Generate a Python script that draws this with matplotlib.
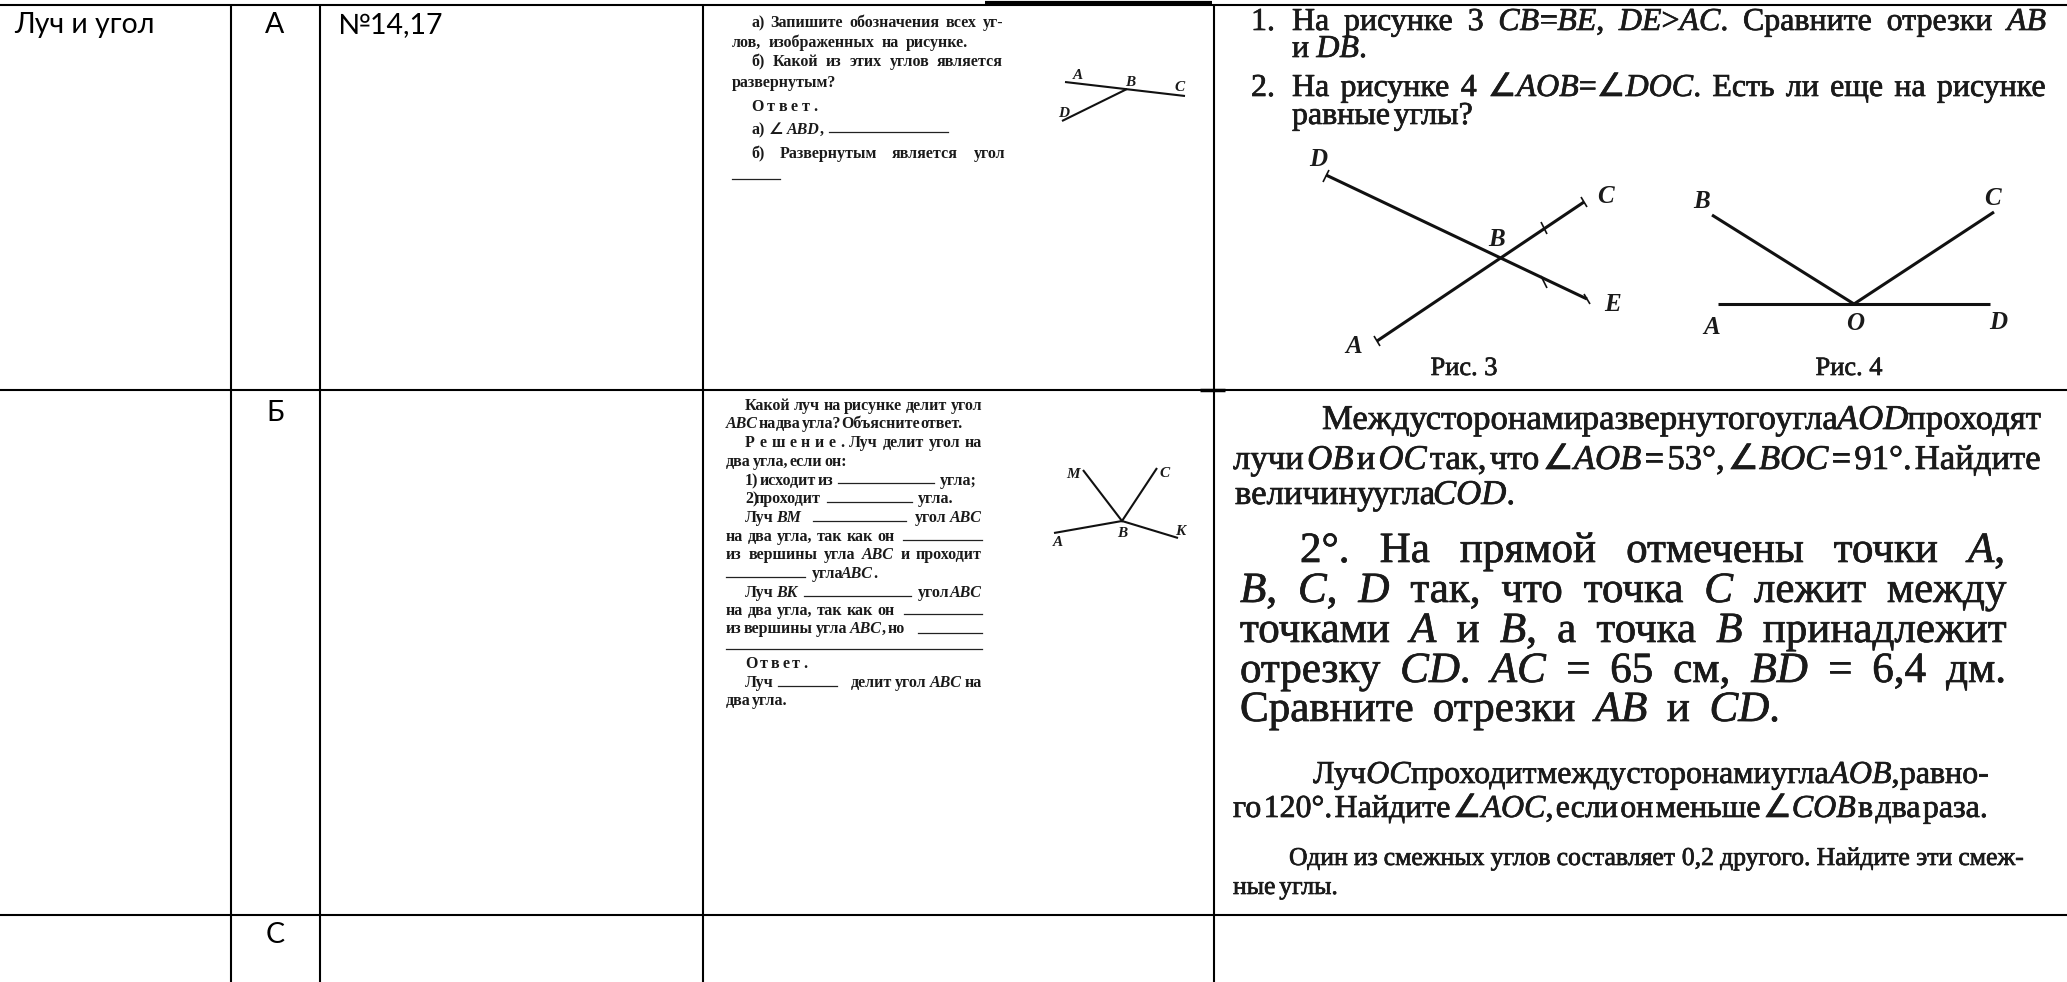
import matplotlib
matplotlib.use('Agg')
import matplotlib.pyplot as plt
import matplotlib.patheffects as pe

W, H = 2067, 982
SERIF = ['Liberation Serif', 'DejaVu Sans']
SANS = ['Lato', 'Open Sans', 'DejaVu Sans']

# table cells
topic = 'Луч и угол'
levels = ['А', 'Б', 'С']
level_y = [33, 421, 943]
tasks = '№14,17'
col_x = [231, 320, 703, 1214]
row_y = [5, 390, 915]

# text in |...| is italic
a_text = ['а) Запишите обозначения всех уг-', 'лов, изображенных на рисунке.',
          'б) Какой из этих углов является', 'развернутым?', 'О т в е т .',
          'а) ∠ |ABD|,', 'б) Развернутым является угол']
a_pos = [(751, 1003, 27), (732, 968, 47), (751, 1003, 66), (732, 832, 87),
         (751, 817, 111), (751, None, 134), (751, 1005, 158)]
a_blanks = [(829, 948, 132), (732, 780, 179)]

b_text = ['Какой луч на рисунке делит угол', '|ABC| на два угла? Объясните ответ.',
          'Р е ш е н и е .  Луч делит угол на', 'два угла, если он:',
          '1) исходит из', 'угла;', '2) проходит', 'угла.',
          'Луч  |BM|', 'угол  |ABC|', 'на два угла, так как он',
          'из вершины угла |ABC| и проходит', 'угла |ABC|.',
          'Луч |BK|', 'угол |ABC|', 'на два угла, так как он',
          'из вершины угла |ABC|, но', 'О т в е т .', 'Луч', 'делит угол |ABC| на', 'два угла.']
b_pos = [(745, 982, 410), (726, 963, 428), (745, 982, 447), (726, 847, 466),
         (745, 833, 485), (940, 973, 485), (745, 821, 503), (918, 950, 503),
         (745, 801, 522), (915, 982, 522), (726, 895, 541),
         (726, 982, 559), (812, 877, 578),
         (745, 797, 597), (918, 982, 597), (726, 895, 615),
         (726, 905, 633), (745, 807, 668), (745, 770, 687), (851, 982, 687), (726, 787, 705)]
b_blanks = [(838, 934, 483), (827, 912, 502), (813, 906, 521), (903, 982, 540),
            (726, 805, 577), (804, 911, 596), (904, 982, 614), (918, 982, 633),
            (726, 982, 649), (778, 837, 686)]

top_text = ['1.', 'На рисунке 3 |CB|=|BE|, |DE|>|AC|. Сравните отрезки |AB|', 'и |DB|.',
            '2.', 'На рисунке 4 ∠|AOB|=∠|DOC|. Есть ли еще на рисунке', 'равные углы?']
top_pos = [(1251, None, 30), (1292, 2046, 30), (1292, 1367, 57),
           (1251, None, 96), (1292, 2046, 96), (1292, 1473, 124)]

mid1_text = ['Между сторонами развернутого угла |AOD| проходят',
             'лучи |OB| и |OC| так, что ∠|AOB| = 53°, ∠|BOC| = 91°. Найдите',
             'величину угла |COD|.']
mid1_pos = [(1322, 2041, 429), (1233, 2041, 469), (1235, 1515, 504)]
mid2_text = ['2°. На прямой отмечены точки |A|,', '|B|, |C|, |D| так, что точка |C| лежит между',
             'точками |A| и |B|, а точка |B| принадлежит', 'отрезку |CD|. |AC| = 65 см, |BD| = 6,4 дм.',
             'Сравните отрезки |AB| и |CD|.']
mid2_pos = [(1300, 2005, 562), (1240, 2006, 602), (1240, 2006, 642), (1240, 2006, 682), (1240, 1780, 721)]
mid3_text = ['Луч |OC| проходит между сторонами угла |AOB|, равно-',
             'го 120°. Найдите ∠|AOC|, если он меньше ∠|COB| в два раза.']
mid3_pos = [(1313, 1989, 783), (1233, 1988, 817)]
mid4_text = ['Один из смежных углов составляет 0,2 другого. Найдите эти смеж-', 'ные углы.']
mid4_pos = [(1289, 2024, 865), (1233, 1338, 894)]

# small drawings: segments, then labels
fig_a_x = [[1065, 1185], [1127, 1062]]
fig_a_y = [[82, 96], [89, 121]]
fig_a_lab = [('A', 1078, 79), ('B', 1130, 86), ('C', 1180, 91), ('D', 1064, 117)]
fig_b_x = [[1054, 1122, 1178], [1083, 1122, 1157]]
fig_b_y = [[533, 521, 538], [470, 521, 468]]
fig_b_lab = [('M', 1073, 478), ('C', 1165, 477), ('B', 1122, 537), ('A', 1058, 546), ('K', 1180, 535)]
fig3_x = [[1326, 1587], [1377, 1584]]
fig3_y = [[175, 299], [341, 202]]
fig3_ticks_x = [[1323, 1329], [1374, 1380], [1581, 1587], [1584, 1590], [1541, 1547], [1541, 1547]]
fig3_ticks_y = [[182, 170], [336, 346], [197, 207], [294, 304], [222, 234], [276, 288]]
fig3_lab = [('D', 1318, 166), ('C', 1605, 203), ('B', 1497, 246), ('E', 1612, 311), ('A', 1354, 353)]
fig4_x = [[1718, 1990], [1712, 1854, 1994]]
fig4_y = [[304, 304], [215, 304, 212]]
fig4_lab = [('B', 1702, 208), ('C', 1992, 205), ('A', 1712, 334), ('O', 1855, 330), ('D', 1998, 329)]
captions = [('Рис. 3', 1464, 375), ('Рис. 4', 1849, 375)]

fig = plt.figure(figsize=(W / 100, H / 100), dpi=100)
ax = fig.add_axes([0, 0, 1, 1])
ax.set_xlim(0, W)
ax.set_ylim(H, 0)
ax.axis('off')
renderer = fig.canvas.get_renderer()
heavy = [pe.withStroke(linewidth=0.5, foreground='#1a1a1a')]


def put_line(x0, x1, y, s, size, weight='normal', effects=None):
    # one line, word by word, spread to run from x0 to x1
    words = []
    italic = False
    for w in s.split():
        parts = []
        for i, p in enumerate(w.split('|')):
            if i > 0:
                italic = not italic
            if p:
                parts.append((p, italic))
        words.append(parts)
    drawn = []
    total = 0
    for parts in words:
        row = []
        for p, it in parts:
            t = ax.text(0, y, p, fontsize=size, family=SERIF, weight=weight,
                        style='italic' if it else 'normal', color='#1a1a1a',
                        ha='left', va='baseline', path_effects=effects)
            wd = t.get_window_extent(renderer).width
            row.append((t, wd))
            total += wd
        drawn.append(row)
    space = size * 100 / 72 * 0.25
    if x1 is not None and len(drawn) > 1:
        space = (x1 - x0 - total) / (len(drawn) - 1)
    x = x0
    for row in drawn:
        for t, wd in row:
            t.set_x(x)
            x += wd
        x += space


def put_block(texts, pos, size, weight='normal', effects=None):
    for s, (x0, x1, y) in zip(texts, pos):
        put_line(x0, x1, y, s, size, weight, effects)


def put_fig(xs, ys, lw):
    for x, y in zip(xs, ys):
        ax.plot(x, y, color='#111111', lw=lw, solid_capstyle='butt', solid_joinstyle='miter')


def put_labels(labs, size, weight='normal'):
    for s, x, y in labs:
        ax.text(x, y, s, fontsize=size, family=SERIF, style='italic', weight=weight,
                color='#1a1a1a', ha='center', va='baseline')


# table rules
for x in col_x:
    ax.plot([x, x], [row_y[0], H], color='black', lw=1.5, solid_capstyle='butt')
for y in row_y:
    ax.plot([0, W], [y, y], color='black', lw=1.5, solid_capstyle='butt')
ax.plot([985, 1212], [3, 3], color='black', lw=3, solid_capstyle='butt')
ax.plot([1200, 1225], [390, 390], color='black', lw=2.5, solid_capstyle='butt')

# left cells
ax.text(14, 33, topic, fontsize=20.5, family=SANS, color='black', va='baseline')
for s, y in zip(levels, level_y):
    ax.text(275, y, s, fontsize=20.5, family=SANS, color='black', ha='center', va='baseline')
ax.text(337, 33, tasks, fontsize=20.5, family=SANS, color='black', va='baseline')

# worksheet scans
put_block(a_text, a_pos, 11.5, 'bold')
put_block(b_text, b_pos, 11.5, 'bold')
for x0, x1, y in a_blanks + b_blanks:
    ax.plot([x0, x1], [y, y], color='#222222', lw=0.9)
put_fig(fig_a_x, fig_a_y, 1.5)
put_fig(fig_b_x, fig_b_y, 1.5)
put_labels(fig_a_lab, 11, 'bold')
put_labels(fig_b_lab, 11, 'bold')

# right column
put_block(top_text, top_pos, 23, effects=heavy)
put_fig(fig3_x, fig3_y, 2.2)
put_fig(fig3_ticks_x, fig3_ticks_y, 1.2)
put_fig(fig4_x, fig4_y, 2.2)
put_labels(fig3_lab, 18, 'bold')
put_labels(fig4_lab, 18, 'bold')
for s, x, y in captions:
    ax.text(x, y, s, fontsize=19, family=SERIF, color='#1a1a1a', ha='center', va='baseline',
            path_effects=heavy)
put_block(mid1_text, mid1_pos, 25, effects=heavy)
put_block(mid2_text, mid2_pos, 31, effects=heavy)
put_block(mid3_text, mid3_pos, 23, effects=heavy)
put_block(mid4_text, mid4_pos, 18.5, effects=heavy)

fig.savefig('out.png', dpi=100)
